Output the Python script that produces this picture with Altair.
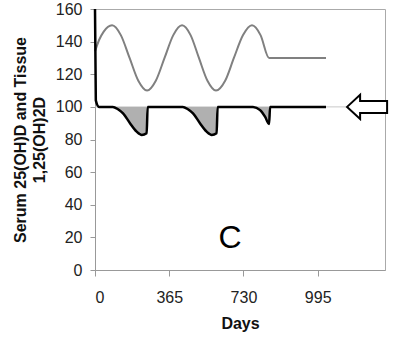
import altair as alt
import pandas as pd

# Gray sinusoid (serum 25(OH)D)
sine_days = [0, 20, 42, 84, 127, 170, 213, 256, 299, 342, 385, 428, 470, 511,
             553, 595, 640, 683, 728, 772, 814, 856, 1136]
sine_vals = [134, 141, 146, 150, 144, 130, 116, 110, 116, 130, 144, 150, 144, 130,
             116, 110, 116, 130, 144, 150, 144, 130, 130]

# Black line (tissue 1,25(OH)2D)
black_days = [0, 4, 20, 88, 113, 138, 172, 205, 230, 254, 259,
              432, 457, 482, 516, 549, 574, 598, 603,
              777, 812, 836, 856, 861, 1136]
black_vals = [160, 104, 100, 100, 98.5, 96, 90, 84.8, 82.8, 83.8, 100,
              100, 98.5, 96, 90, 84.8, 82.8, 83.8, 100,
              100, 98, 94, 89.5, 100, 100]

ref_days = [0, 1240]
ref_level = 100
arrow_days = [1338]
arrow_vals = [100]
x_ticks = [0, 365, 730, 1095]
x_tick_labels = ["0", "365", "730", "995"]
y_ticks = [0, 20, 40, 60, 80, 100, 120, 140, 160]
panel_days = [664]
panel_vals = [19.4]
panel_text = ["C"]

sine_df = pd.DataFrame({"day": sine_days, "val": sine_vals})
black_df = pd.DataFrame({"day": black_days, "val": black_vals, "base": [ref_level] * len(black_days)})
fill_df = black_df[black_df["day"] >= 20]
ref_df = pd.DataFrame({"day": [ref_days[0]], "day2": [ref_days[1]], "val": [ref_level]})
arrow_df = pd.DataFrame({"day": arrow_days, "val": arrow_vals})
panel_df = pd.DataFrame({"day": panel_days, "val": panel_vals, "t": panel_text})

label_expr = "datum.label"
for v, l in zip(x_ticks, x_tick_labels):
    label_expr = f"datum.value == {v} ? '{l}' : ({label_expr})"

FONT = "Liberation Sans"
xs = alt.Scale(domain=[0, 1426], nice=False, zero=False)
ys = alt.Scale(domain=[0, 160], nice=False)

x_axis = alt.Axis(values=x_ticks, labelExpr=label_expr, title="Days", grid=False,
                  tickSize=6, labelPadding=13, titlePadding=10, labelOverlap=False)
y_axis = alt.Axis(values=y_ticks, title=["Serum 25(OH)D and Tissue", "1,25(OH)2D"],
                  grid=False, tickSize=5, labelPadding=8, titlePadding=8,
                  titleLineHeight=19, labelOverlap=False, tickCount=9)


def X(field="day"):
    return alt.X(f"{field}:Q", scale=xs, axis=x_axis)


def Y(field="val"):
    return alt.Y(f"{field}:Q", scale=ys, axis=y_axis)


ref = alt.Chart(ref_df).mark_rule(color="#c8c8c8", strokeWidth=1).encode(
    x=X(), x2="day2:Q", y=Y(),
)

area = alt.Chart(fill_df).mark_area(color="#b0b0b0", interpolate="monotone", opacity=1).encode(
    x=X(), y=Y(), y2="base:Q",
)

sine = alt.Chart(sine_df).mark_line(color="#808080", strokeWidth=2, interpolate="monotone").encode(
    x=X(), y=Y(),
)

black = alt.Chart(black_df).mark_line(color="#000000", strokeWidth=2.5, interpolate="monotone").encode(
    x=X(), y=Y(),
)

arrow_path = "M -1 0 L -0.35 -0.6 L -0.35 -0.3 L 1 -0.3 L 1 0.3 L -0.35 0.3 L -0.35 0.6 Z"
arrow = alt.Chart(arrow_df).mark_point(shape=arrow_path, size=1600, filled=True,
                                       fill="white", stroke="black", strokeWidth=2,
                                       opacity=1).encode(
    x=X(), y=Y(),
)

panel = alt.Chart(panel_df).mark_text(font=FONT, fontSize=32, color="black",
                                      align="center", baseline="middle").encode(
    x=X(), y=Y(), text="t:N",
)

chart = alt.layer(ref, area, sine, black, arrow, panel).properties(
    width=290, height=261, autosize="none",
    padding={"left": 95, "top": 9, "right": 15, "bottom": 72},
    background="white",
).configure_view(stroke="#aaaaaa", strokeWidth=1).configure_axis(
    labelFont=FONT, titleFont=FONT, labelFontSize=16, titleFontSize=16,
    titleFontWeight="bold", labelColor="#222222", titleColor="#111111",
    domainColor="#999999", tickColor="#999999", domainWidth=1, tickWidth=1,
    labelOverlap=False,
)

chart.save("out.html", embed_options={"renderer": "svg", "actions": False})
